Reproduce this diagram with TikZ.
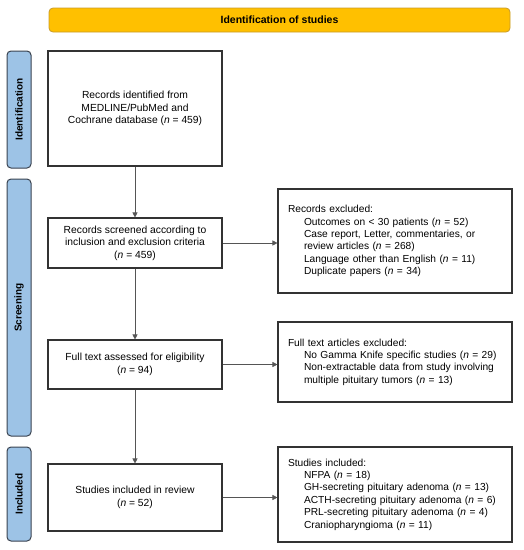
\documentclass[tikz,border=0pt]{standalone}
\usepackage{fontspec}
\setmainfont{Liberation Sans}
\usetikzlibrary{arrows.meta}
\definecolor{bannerfill}{HTML}{FFC000}
\definecolor{bannerdraw}{HTML}{C89B2A}
\definecolor{sidefill}{HTML}{9DC3E6}
\definecolor{sidedraw}{HTML}{3A4350}
\definecolor{boxdraw}{HTML}{333333}
\definecolor{linecol}{HTML}{555555}
\newcommand{\lead}{\hspace*{5pt}}
\newcommand{\ind}{\hspace*{21pt}}
\begin{document}
\begin{tikzpicture}[x=1pt,y=-1pt,
  box/.style={draw=boxdraw, line width=1.1pt, fill=white, inner sep=0pt, align=center,
    font=\fontsize{10.3}{12.5}\selectfont},
  listbox/.style={draw=boxdraw, line width=1.1pt, fill=white, inner xsep=5pt, inner ysep=0pt,
    text width=224pt, align=left, font=\fontsize{10.2}{12.4}\selectfont},
  sidelab/.style={draw=sidedraw, line width=1pt, fill=sidefill, rounded corners=4pt,
    minimum width=24pt, inner sep=0pt},
  sidetext/.style={font=\bfseries\fontsize{10}{12}\selectfont, rotate=90},
  conn/.style={draw=linecol, line width=0.6pt, -{Triangle[length=5pt,width=5pt]}}
]
\useasboundingbox (0,0) rectangle (524,550);
% banner
\node[draw=bannerdraw, line width=0.8pt, fill=bannerfill, rounded corners=4pt,
  minimum width=461pt, minimum height=24pt, inner sep=0pt,
  font=\bfseries\fontsize{10.5}{12}\selectfont] (banner) at (279.5,20) {Identification of studies};
% side labels
\node[sidelab, minimum height=117pt] (sid) at (19,109.5) {};
\node[sidetext] (sidt) at (sid.center) {Identification};
\node[sidelab, minimum height=257pt] (sscr) at (19,307.5) {};
\node[sidetext] (sscrt) at (sscr.center) {Screening};
\node[sidelab, minimum height=94pt] (sinc) at (19,494) {};
\node[sidetext] (sinct) at (sinc.center) {Included};
% main boxes
\node[box, minimum width=174pt, minimum height=115pt] (b1) at (135,108.5)
  {Records identified from\\MEDLINE/PubMed and\\Cochrane database (\textit{n} = 459)};
\node[box, minimum width=174pt, minimum height=50pt] (b2) at (135,243)
  {Records screened according to\\inclusion and exclusion criteria\\(\textit{n} = 459)};
\node[box, minimum width=174pt, minimum height=49pt] (b3) at (135,364.5)
  {Full text assessed for eligibility\\(\textit{n} = 94)};
\node[box, minimum width=174pt, minimum height=67pt] (b4) at (135,497.5)
  {Studies included in review\\(\textit{n} = 52)};
% right boxes
\node[listbox, minimum height=104pt] (r1) at (395,241) {\lead Records excluded:\\
\ind Outcomes on < 30 patients (\textit{n} = 52)\\
\ind Case report, Letter, commentaries, or\\
\ind review articles (\textit{n} = 268)\\
\ind Language other than English (\textit{n} = 11)\\
\ind Duplicate papers (\textit{n} = 34)};
\node[listbox, minimum height=80pt] (r2) at (395,362) {\lead Full text articles excluded:\\
\ind No Gamma Knife specific studies (\textit{n} = 29)\\
\ind Non-extractable data from study involving\\
\ind multiple pituitary tumors (\textit{n} = 13)};
\node[listbox, minimum height=95pt] (r3) at (395,494.5) {\lead Studies included:\\
\ind NFPA (\textit{n} = 18)\\
\ind GH-secreting pituitary adenoma (\textit{n} = 13)\\
\ind ACTH-secreting pituitary adenoma (\textit{n} = 6)\\
\ind PRL-secreting pituitary adenoma (\textit{n} = 4)\\
\ind Craniopharyngioma (\textit{n} = 11)};
% connectors
\draw[conn] (b1.south) -- (b2.north);
\draw[conn] (b2.south) -- (b3.north);
\draw[conn] (b3.south) -- (b4.north);
\draw[conn] (b2.east) -- (b2.east -| r1.west);
\draw[conn] (b3.east) -- (b3.east -| r2.west);
\draw[conn] (b4.east) -- (b4.east -| r3.west);
\end{tikzpicture}
\end{document}
